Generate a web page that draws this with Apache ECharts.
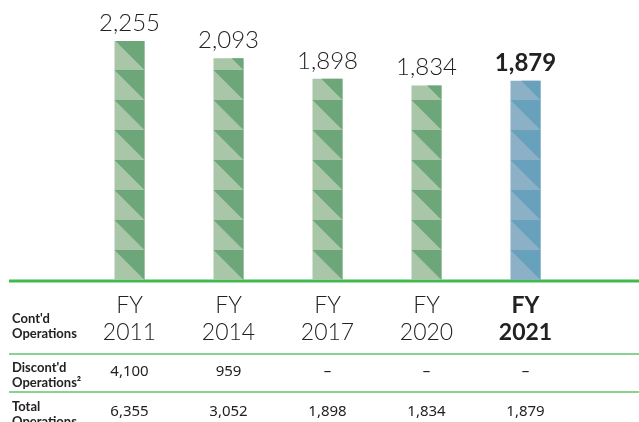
<!DOCTYPE html>
<html>
<head>
<meta charset="utf-8">
<script src="https://cdn.jsdelivr.net/npm/echarts@6/dist/echarts.min.js"></script>
<style>
  html, body { margin: 0; padding: 0; background: #fff; }
  #chart { width: 639px; height: 422px; }
</style>
</head>
<body>
<div id="chart"></div>
<script>
// fiscal years and values (continuing / discontinued / total operations)
var years = ['2011', '2014', '2017', '2020', '2021'];
var contValues = [2255, 2093, 1898, 1834, 1879];
var discontValues = [4100, 959, null, null, null];
var totalValues = [6355, 3052, 1898, 1834, 1879];
var highlightIndex = 4; // FY 2021 drawn in blue + bold

var fontLight = 'Lato, Roboto, sans-serif';
var fontHead = 'Lato, "Noto Sans", sans-serif';
var fontTable = '"Noto Sans", Lato, sans-serif';

function fmt(v) {
  return v == null ? '–' : v.toLocaleString('en-US');
}

var chart = echarts.init(document.getElementById('chart'));

// bar with a diagonal triangle pattern, tiles stacked from the baseline
function renderBar(params, api) {
  var idx = params.dataIndex;
  var val = api.value(1);
  var top = api.coord([idx, val]);
  var base = api.coord([idx, 0]);
  var w = 30;
  var x0 = top[0] - w / 2;
  var t = top[1];
  var b = base[1];
  var blue = idx === highlightIndex;
  var light = blue ? '#8cb0c5' : '#a9c6a8';
  var dark = blue ? '#67a1bc' : '#6da779';
  var children = [{
    type: 'rect',
    shape: { x: x0, y: t, width: w, height: b - t },
    style: { fill: light }
  }];
  for (var y0 = b; y0 > t; y0 -= w) {
    var y1 = y0 - w;
    var pts;
    if (y1 >= t) {
      pts = [[x0, y1], [x0 + w, y1], [x0 + w, y0]];
    } else {
      var xd = x0 + (t - y1);
      pts = [[xd, t], [x0 + w, t], [x0 + w, y0]];
    }
    children.push({ type: 'polygon', shape: { points: pts }, style: { fill: dark } });
  }
  children.push({
    type: 'text',
    x: top[0],
    y: t - 6,
    style: {
      text: fmt(val),
      align: 'center',
      verticalAlign: 'bottom',
      fontFamily: fontLight,
      fontWeight: blue ? 'bold' : 300,
      fontSize: 24,
      fill: '#222'
    }
  });
  return { type: 'group', children: children };
}

var tableLabel = { margin: 8, interval: 0, fontFamily: fontTable, fontSize: 15, lineHeight: 18, color: '#222' };

chart.setOption({
  animation: false,
  grid: { left: 80, right: 64, top: 15, bottom: 142 },
  xAxis: [
    {
      type: 'category',
      data: years,
      axisLine: { show: false },
      axisTick: { show: false },
      axisLabel: {
        margin: 12,
        interval: 0,
        formatter: function (v, i) {
          return i === highlightIndex ? '{b|FY}\n{b|' + v + '}' : '{n|FY}\n{n|' + v + '}';
        },
        rich: {
          n: { fontFamily: fontLight, fontWeight: 300, fontSize: 23, lineHeight: 27, color: '#222' },
          b: { fontFamily: fontLight, fontWeight: 'bold', fontSize: 23, lineHeight: 27, color: '#222' }
        }
      }
    },
    {
      type: 'category',
      position: 'bottom',
      offset: 75,
      data: discontValues.map(fmt),
      axisLine: { show: false },
      axisTick: { show: false },
      axisLabel: tableLabel
    },
    {
      type: 'category',
      position: 'bottom',
      offset: 115,
      data: totalValues.map(fmt),
      axisLine: { show: false },
      axisTick: { show: false },
      axisLabel: tableLabel
    }
  ],
  yAxis: {
    type: 'value',
    min: 0,
    max: 2500,
    show: false,
    splitLine: { show: false }
  },
  series: [
    {
      type: 'custom',
      xAxisIndex: 0,
      renderItem: renderBar,
      encode: { x: 0, y: 1 },
      data: contValues.map(function (v, i) { return [i, v]; })
    }
  ],
  graphic: [
    { type: 'line', shape: { x1: 9, y1: 281, x2: 639, y2: 281 }, style: { stroke: '#3fba4c', lineWidth: 3 } },
    { type: 'line', shape: { x1: 9, y1: 354, x2: 639, y2: 354 }, style: { stroke: '#62c46b', lineWidth: 1.5 } },
    { type: 'line', shape: { x1: 9, y1: 392, x2: 639, y2: 392 }, style: { stroke: '#62c46b', lineWidth: 1.5 } },
    {
      type: 'text', left: 12, top: 311,
      style: { text: "Cont'd\nOperations", fontFamily: fontHead, fontWeight: 'bold', fontSize: 13, lineHeight: 15, fill: '#222' }
    },
    {
      type: 'text', left: 12, top: 360,
      style: { text: "Discont'd\nOperations²", fontFamily: fontHead, fontWeight: 'bold', fontSize: 13, lineHeight: 15, fill: '#222' }
    },
    {
      type: 'text', left: 12, top: 399,
      style: { text: "Total\nOperations", fontFamily: fontHead, fontWeight: 'bold', fontSize: 13, lineHeight: 15, fill: '#222' }
    }
  ]
});
</script>
</body>
</html>
